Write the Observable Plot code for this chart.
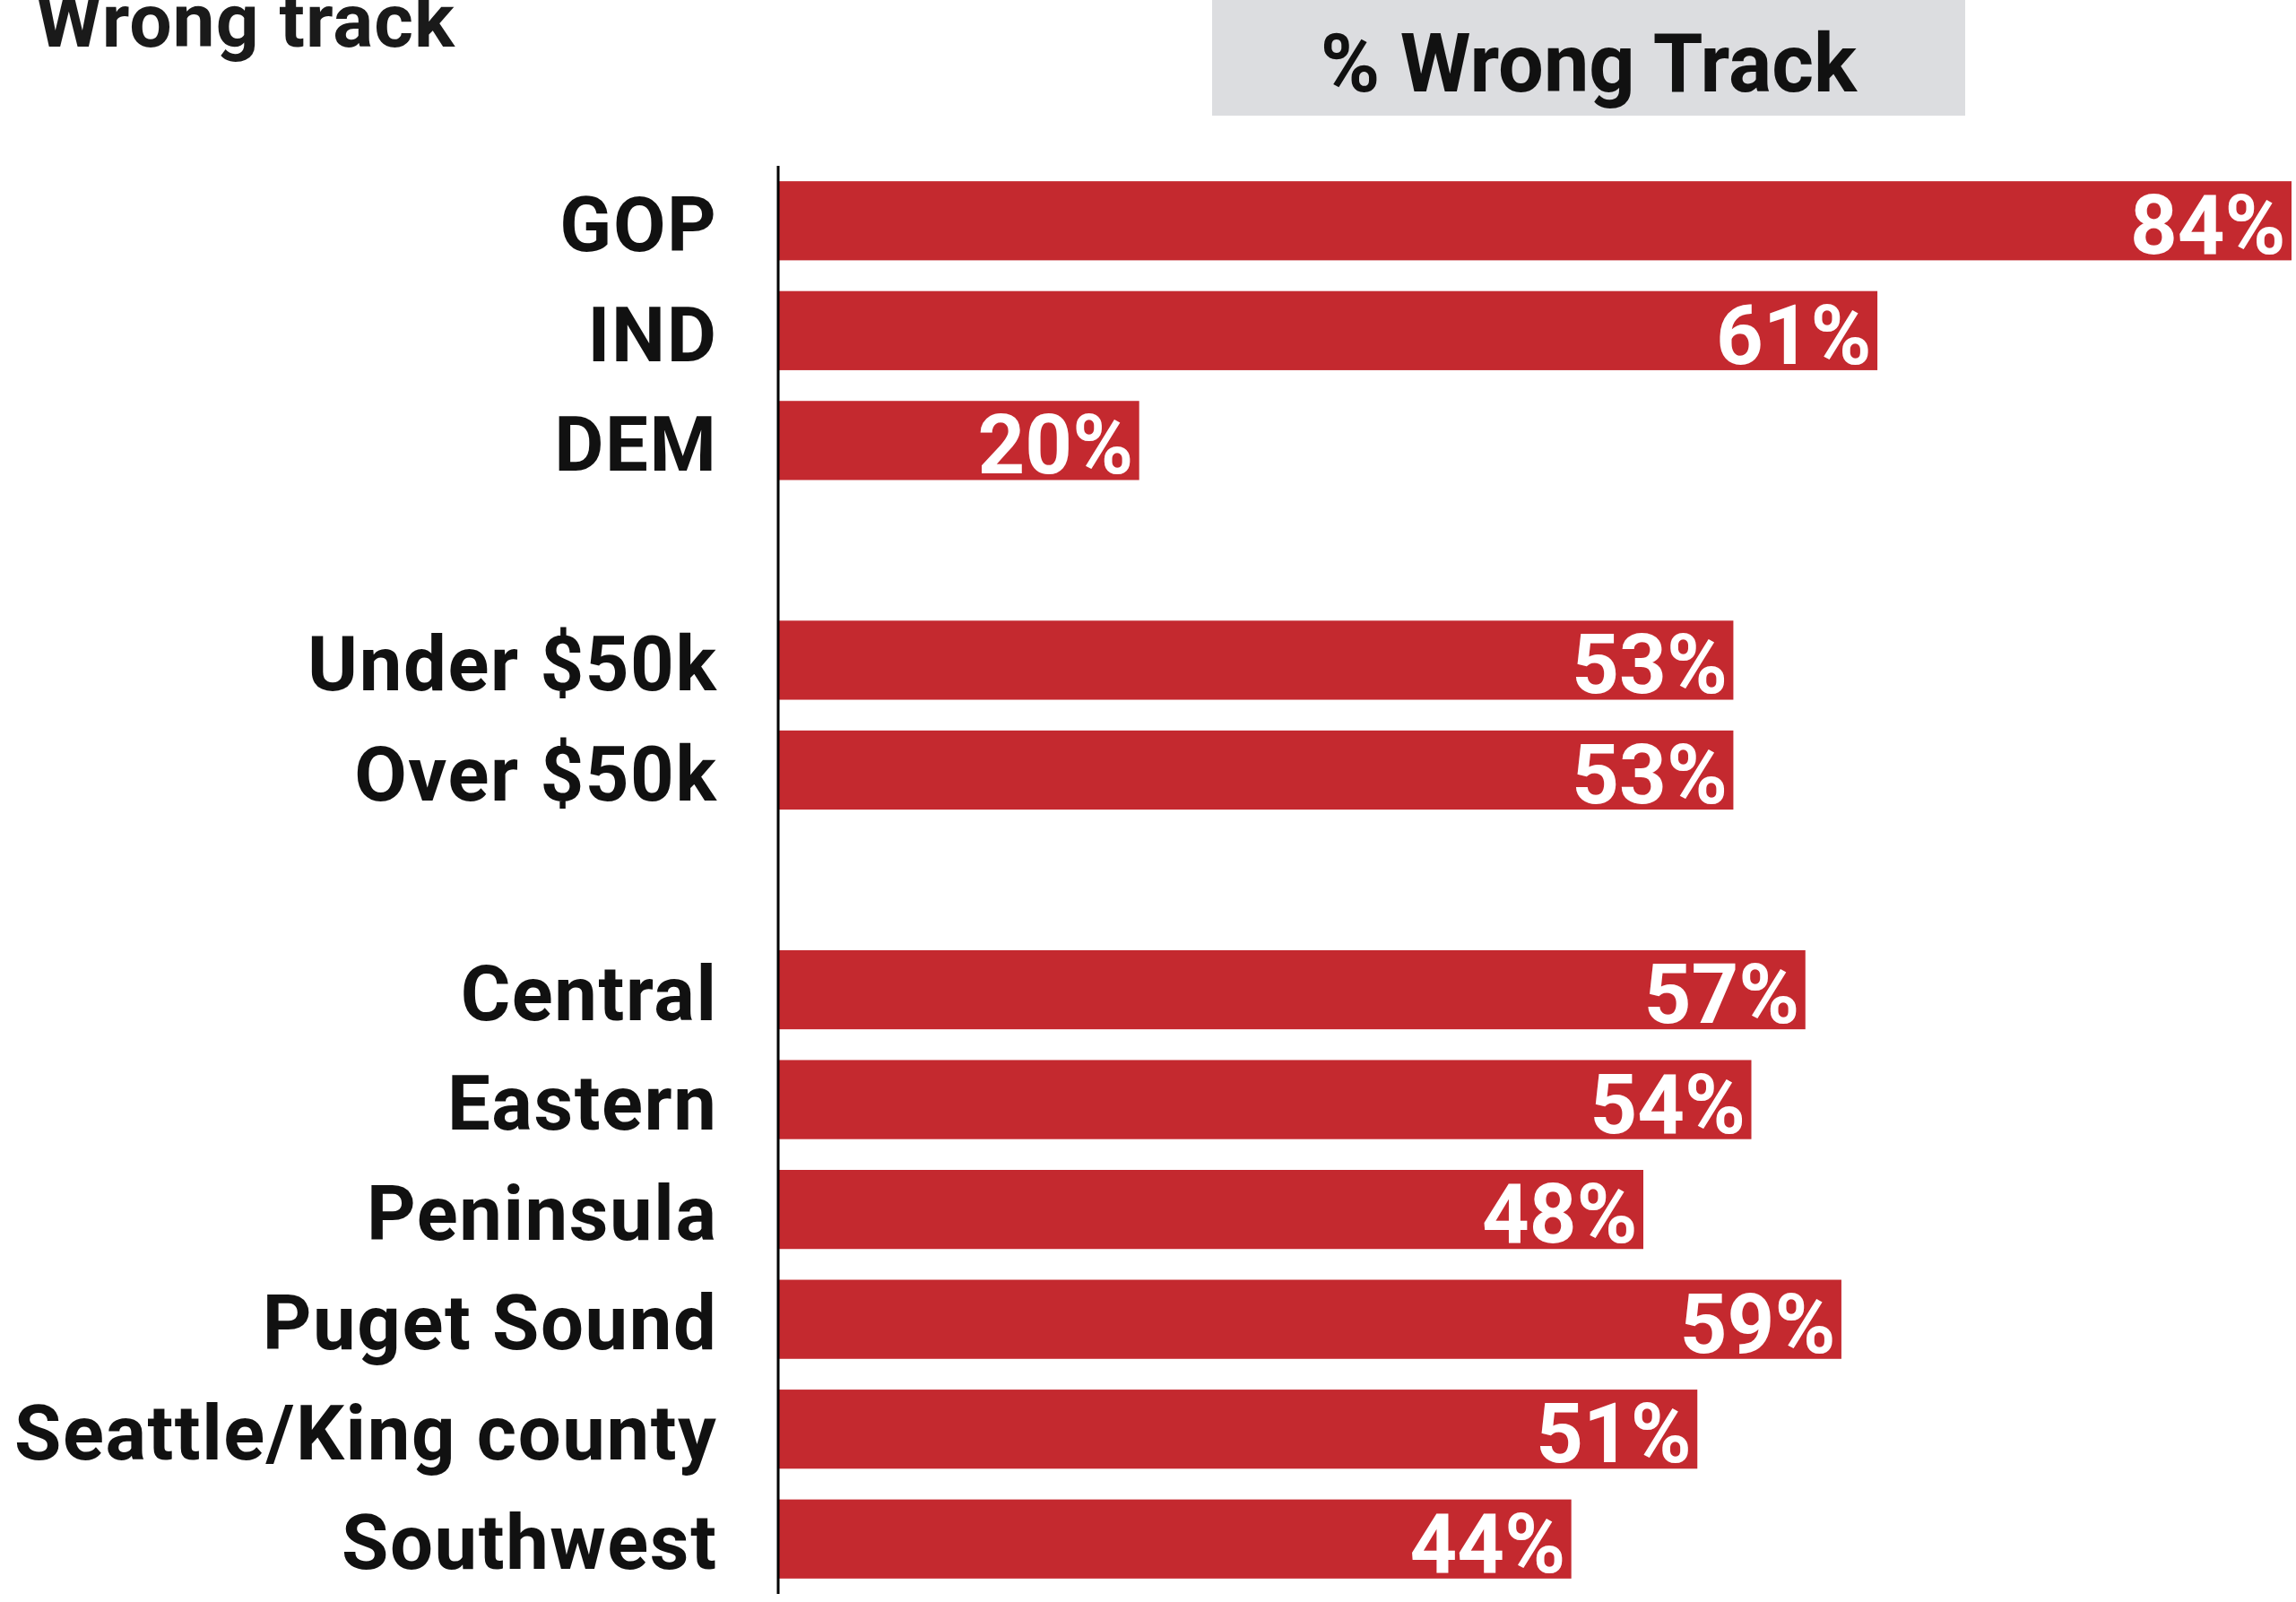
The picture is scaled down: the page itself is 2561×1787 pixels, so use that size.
<!DOCTYPE html>
<html>
<head>
<meta charset="utf-8">
<script src="https://cdn.jsdelivr.net/npm/d3@7"></script>
<script src="https://cdn.jsdelivr.net/npm/@observablehq/plot@0.6"></script>
<style>
  html, body { margin: 0; padding: 0; background: #fff; }
  #wrap { position: relative; width: 2561px; height: 1787px; overflow: hidden; font-family: Roboto, sans-serif; }
  #title { position: absolute; left: 40px; top: 66px; transform: translateY(-100%); font-size: 84px; font-weight: 700; color: #1a1a1a; line-height: 1; white-space: nowrap; letter-spacing: 1px; }
  #header { position: absolute; left: 1352px; top: 0; width: 840px; height: 129px; background: #dcdde0; }
  #header span { position: absolute; left: 0; width: 100%; text-align: center; top: 97px; transform: translateY(-78%); font-size: 90px; font-weight: 700; color: #111; line-height: 1; white-space: nowrap; }
  #chart { position: absolute; left: 0; top: 0; }
  g[aria-label="values"] text { text-shadow: 2px 3px 3px rgba(60,0,0,0.75); letter-spacing: 5px; }
  g[aria-label="y-axis tick label"] text { letter-spacing: 1.6px; }
</style>
</head>
<body>
<div id="wrap">
  <div id="chart"></div>
  <div id="title">Wrong track</div>
  <div id="header"><span>% Wrong Track</span></div>
</div>
<script>
const categories = ["GOP", "IND", "DEM", "Under $50k", "Over $50k", "Central", "Eastern", "Peninsula", "Puget Sound", "Seattle/King county", "Southwest"];
const values = [84, 61, 20, 53, 53, 57, 54, 48, 59, 51, 44];
const groups = ["party", "party", "party", "income", "income", "region", "region", "region", "region", "region", "region"];

const data = categories.map((c, i) => ({category: c, value: values[i], group: groups[i]}));

// build y domain with blank spacer rows between groups
const domain = [];
let spacer = 0;
data.forEach((d, i) => {
  if (i > 0 && d.group !== data[i - 1].group) domain.push(`__gap${spacer++}`);
  domain.push(d.category);
});

const chart = Plot.plot({
  width: 2561,
  height: 1787,
  marginTop: 185,
  marginBottom: 9,
  marginLeft: 869,
  marginRight: 5,
  style: {fontFamily: "Roboto, sans-serif", fontSize: "85px", fontWeight: 700, color: "#111", background: "transparent"},
  x: {domain: [0, 84], axis: null},
  y: {domain, paddingInner: 0.28, paddingOuter: 0.14, round: false, label: null},
  marks: [
    Plot.barX(data, {x: "value", y: "category", fill: "#c4292f"}),
    Plot.ruleX([0], {stroke: "#000", strokeWidth: 3, dx: -1.5}),
    Plot.axisY({tickSize: 0, tickPadding: 69, dy: 6, tickFormat: d => d.startsWith("__gap") ? "" : d, fontSize: 85, fontWeight: 700, fill: "#111", label: null}),
    Plot.text(data, {x: "value", y: "category", text: d => d.value + "%", textAnchor: "end", dx: -7, dy: 7, fill: "#fff", fontSize: 92, fontWeight: 700, ariaLabel: "values"})
  ]
});
document.getElementById("chart").appendChild(chart);
</script>
</body>
</html>
